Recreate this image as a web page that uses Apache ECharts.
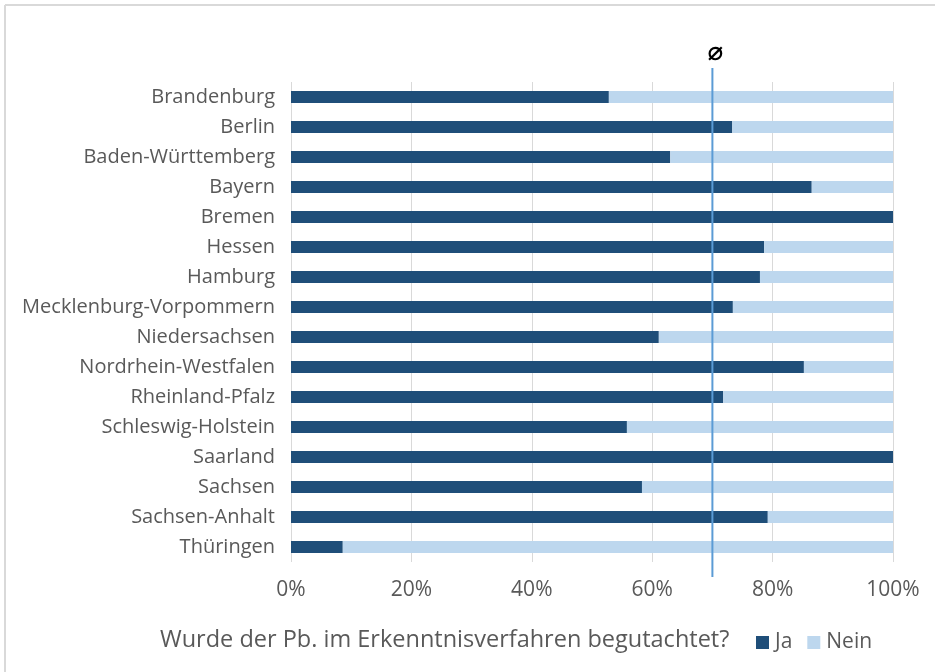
<!DOCTYPE html>
<html>
<head>
<meta charset="utf-8">
<script src="https://cdn.jsdelivr.net/npm/echarts@6/dist/echarts.min.js"></script>
<style>
html,body{margin:0;padding:0;background:#fff;}
#c{width:935px;height:672px;}
</style>
</head>
<body>
<div id="c"></div>
<script>
var categories = ["Brandenburg","Berlin","Baden-Württemberg","Bayern","Bremen","Hessen","Hamburg","Mecklenburg-Vorpommern","Niedersachsen","Nordrhein-Westfalen","Rheinland-Pfalz","Schleswig-Holstein","Saarland","Sachsen","Sachsen-Anhalt","Thüringen"];
var ja   = [52.8, 73.3, 63.0, 86.5, 100, 78.6, 77.9, 73.4, 61.1, 85.2, 71.8, 55.8, 100, 58.3, 79.2, 8.6];
var nein = ja.map(function(v){ return +(100 - v).toFixed(1); });
var average = 70;
var xTicks = [0, 20, 40, 60, 80, 100];
var questionText = "Wurde der Pb. im Erkenntnisverfahren begutachtet?";

var chart = echarts.init(document.getElementById('c'));
var textColor = '#595959';
var option = {
  animation: false,
  backgroundColor: '#fff',
  grid: {left: 291, right: 42, top: 82, bottom: 110, containLabel: false},
  xAxis: {
    type: 'value', min: xTicks[0], max: xTicks[xTicks.length-1], interval: 20,
    axisLine: {show: false}, axisTick: {show: false},
    splitLine: {show: true, lineStyle: {color: '#d9d9d9', width: 1}},
    axisLabel: {formatter: '{value}%', color: textColor, fontFamily: 'Open Sans', fontSize: 21, margin: 18}
  },
  yAxis: {
    type: 'category', data: categories, inverse: true,
    axisLine: {show: false}, axisTick: {show: false},
    axisLabel: {color: textColor, fontFamily: 'Open Sans', fontSize: 20, margin: 16}
  },
  legend: {
    left: 751, top: 627, itemWidth: 13, itemHeight: 13, itemGap: 15,
    icon: 'rect',
    textStyle: {color: textColor, fontFamily: 'Open Sans', fontSize: 21, padding: [0,0,0,1]},
    data: ['Ja', 'Nein']
  },
  title: {
    text: questionText, left: 155, top: 623,
    textStyle: {color: textColor, fontFamily: 'Open Sans', fontSize: 23.5, fontWeight: 'normal'}
  },
  series: [
    {name: 'Ja', type: 'bar', stack: 's', data: ja, barWidth: 12, itemStyle: {color: '#1f4e79'}},
    {name: 'Nein', type: 'bar', stack: 's', data: nein, barWidth: 12, itemStyle: {color: '#bdd7ee'}}
  ]
};
chart.setOption(option);
var ax = chart.convertToPixel({xAxisIndex: 0}, average);
chart.setOption({
  graphic: [
    {type: 'line', shape: {x1: 5, y1: 5, x2: 935, y2: 5}, style: {stroke: '#d9d9d9', lineWidth: 2}, silent: true},
    {type: 'line', shape: {x1: 5, y1: 5, x2: 5, y2: 672}, style: {stroke: '#d9d9d9', lineWidth: 2}, silent: true},
    {type: 'line', shape: {x1: ax, y1: 68, x2: ax, y2: 577}, style: {stroke: '#5b9bd5', lineWidth: 2}, z: 100},
    {type: 'text', x: ax + 3, y: 53, style: {text: '⌀', font: 'bold 26px "DejaVu Sans"', fill: '#000', align: 'center', verticalAlign: 'middle'}, z: 100}
  ]
});
</script>
</body>
</html>
